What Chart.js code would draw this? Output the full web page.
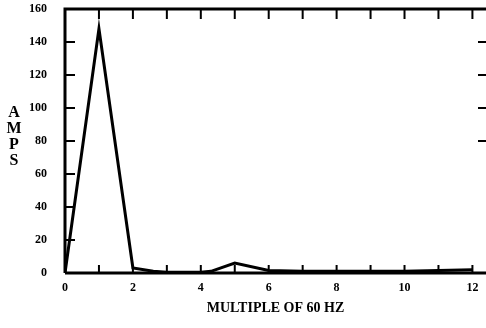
<!DOCTYPE html>
<html>
<head>
<meta charset="utf-8">
<script src="https://cdn.jsdelivr.net/npm/chart.js@4/dist/chart.umd.min.js"></script>
<style>
  html, body { margin: 0; padding: 0; background: #fff; }
  #wrap { width: 486px; height: 328px; }
</style>
</head>
<body>
<div id="wrap"><canvas id="c" width="486" height="328"></canvas></div>
<script>
// harmonic number (multiple of 60 Hz) and measured amps
const harmonics = [0, 1, 2, 2.6, 3, 4, 4.3, 5, 6, 7, 8, 9, 10, 11, 12];
const amps      = [0, 148, 3, 1, 0.5, 0.5, 1, 6, 1.5, 1, 1, 1, 1, 1.5, 2];
const yTicks = [0, 20, 40, 60, 80, 100, 120, 140, 160];
const xLabels = [0, 2, 4, 6, 8, 10, 12];
const rightTicks = [80, 100, 120, 140];

const serif = '"Liberation Serif", "DejaVu Serif", serif';

// frame + inward tick marks, drawn through the chart scales
const framePlugin = {
  id: 'frame',
  afterDraw(chart) {
    const ctx = chart.ctx;
    const a = chart.chartArea;
    const xs = chart.scales.x, ys = chart.scales.y;
    ctx.save();
    ctx.strokeStyle = '#000';
    ctx.lineWidth = 3;
    ctx.beginPath();
    ctx.moveTo(a.left, a.bottom); ctx.lineTo(a.left, a.top);
    ctx.lineTo(a.right, a.top);
    ctx.moveTo(a.left, a.bottom); ctx.lineTo(a.right, a.bottom);
    ctx.stroke();

    ctx.lineWidth = 2;
    ctx.beginPath();
    yTicks.forEach(v => {
      if (v === 0 || v === 160) return;
      const y = ys.getPixelForValue(v);
      ctx.moveTo(a.left, y); ctx.lineTo(a.left + 10, y);
    });
    rightTicks.forEach(v => {
      const y = ys.getPixelForValue(v);
      ctx.moveTo(a.right - 8, y); ctx.lineTo(a.right, y);
    });
    for (let i = 1; i <= 12; i++) {
      const x = xs.getPixelForValue(i);
      ctx.moveTo(x, a.top); ctx.lineTo(x, a.top + 10);
      ctx.moveTo(x, a.bottom); ctx.lineTo(x, a.bottom - 8);
    }
    ctx.stroke();

    // vertical AMPS label
    ctx.fillStyle = '#000';
    ctx.font = 'bold 16px ' + serif;
    ctx.textAlign = 'center';
    ctx.textBaseline = 'middle';
    ['A', 'M', 'P', 'S'].forEach((ch, i) => ctx.fillText(ch, 14, 113 + i * 16));
    ctx.restore();
  }
};

new Chart(document.getElementById('c'), {
  type: 'line',
  data: {
    datasets: [{
      data: harmonics.map((h, i) => ({ x: h, y: amps[i] })),
      borderColor: '#000',
      borderWidth: 3,
      pointRadius: 0,
      tension: 0,
      fill: false
    }]
  },
  options: {
    responsive: false,
    animation: false,
    layout: { padding: { left: 0, right: 0, top: 9, bottom: 7 } },
    plugins: { legend: { display: false }, tooltip: { enabled: false } },
    scales: {
      x: {
        type: 'linear',
        min: 0,
        max: 12.4,
        afterFit: s => { s.height = 48; s.paddingLeft = 0; s.paddingRight = 0; },
        afterBuildTicks: s => { s.ticks = xLabels.map(v => ({ value: v })); },
        grid: { display: false },
        border: { display: false },
        ticks: {
          padding: 0,
          color: '#000',
          font: { family: serif, size: 12, weight: 'bold' },
          maxRotation: 0,
          autoSkip: false
        },
        title: {
          display: true,
          text: 'MULTIPLE OF 60 HZ',
          color: '#000',
          font: { family: serif, size: 14, weight: 'bold' },
          padding: { top: 2 }
        }
      },
      y: {
        min: 0,
        max: 160,
        afterFit: s => { s.width = 65; s.paddingTop = 0; s.paddingBottom = 0; },
        afterBuildTicks: s => { s.ticks = yTicks.map(v => ({ value: v })); },
        grid: { display: false },
        border: { display: false },
        ticks: {
          padding: 10,
          color: '#000',
          font: { family: serif, size: 12, weight: 'bold' }
        }
      }
    }
  },
  plugins: [framePlugin]
});
</script>
</body>
</html>
